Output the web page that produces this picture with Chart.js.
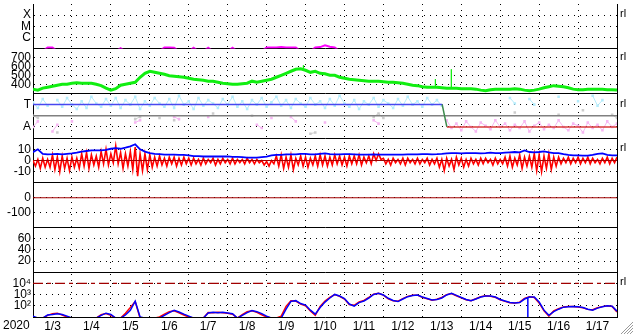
<!DOCTYPE html>
<html>
<head>
<meta charset="utf-8">
<script src="https://cdn.jsdelivr.net/npm/chart.js@4.4.1/dist/chart.umd.min.js"></script>
<style>
  html, body { margin: 0; padding: 0; background: #fff; }
  #wrap { position: relative; width: 633px; height: 334px; }
</style>
</head>
<body>
<div id="wrap"><canvas id="panels" width="633" height="334"></canvas></div>
<script>
// x axis: days since 2020-01-03 00:00, one sample every 3 hours
var YEAR = '2020';
var DAYS = ['1/3','1/4','1/5','1/6','1/7','1/8','1/9','1/10','1/11','1/12','1/13','1/14','1/15','1/16','1/17'];
var STEP = 0.125;

// GOES x-ray flux (W/m2), mostly under the panel floor
var xrayFlux = [6e-8,6e-8,6e-8,1.3e-7,1.3e-7,6e-8,6e-8,6e-8,6e-8,6e-8, 6e-8,6e-8,6e-8,6e-8,6e-8,6e-8,6e-8,6e-8,1.1e-7,6e-8,
  6e-8,6e-8,6e-8,6e-8,6e-8,6e-8,6e-8,1.3e-7,1.3e-7,1.2e-7, 6e-8,6e-8,6e-8,1.2e-7,6e-8,6e-8,1.2e-7,6e-8,6e-8,6e-8,
  6e-8,1.2e-7,6e-8,6e-8,6e-8,6e-8,6e-8,6e-8,1.3e-7,1.3e-7, 1.3e-7,1.4e-7,1.3e-7,1.3e-7,1.3e-7,6e-8,6e-8,6e-8,1.3e-7,1.4e-7,
  2.0e-7,1.5e-7,1.3e-7,6e-8,6e-8,6e-8,6e-8,6e-8,6e-8,6e-8, 6e-8,6e-8,6e-8,6e-8,6e-8,6e-8,6e-8,6e-8,6e-8,6e-8,
  6e-8,6e-8,6e-8,6e-8,6e-8,6e-8,6e-8,6e-8,6e-8,6e-8, 6e-8,6e-8,6e-8,6e-8,6e-8,6e-8,6e-8,6e-8,6e-8,6e-8,
  6e-8,6e-8,6e-8,6e-8,6e-8,6e-8,6e-8,6e-8,6e-8,6e-8, 6e-8,6e-8,6e-8,6e-8,6e-8,6e-8,6e-8,6e-8,6e-8,6e-8, 6e-8];

// solar wind speed (km/s)
var windSpeed = [348,337,359,370,381,392,403,403,414,420, 414,414,414,403,387,359,337,353,392,403,
  414,425,481,525,548,536,525,514,498,492, 486,481,470,459,453,448,437,437,425,414,
  409,403,403,409,414,437,425,437,448,459, 481,503,525,548,570,575,559,536,548,525,
  520,503,503,481,470,459,453,448,442,437, 437,437,431,425,425,420,414,403,392,387,
  375,370,370,370,364,359,359,359,353,353, 353,348,337,331,342,348,348,348,348,353,
  348,337,331,337,348,364,375,387,381,375, 364,348,342,342,348,348,348,348,342,342, 337];
var speedSpikeDay = [6.94, 10.33, 10.74];
var speedSpikeTop = [615, 460, 570];

// T/A panel, in panel levels (A = 1, T = 3)
var tempBlue = [3.2,2.7,3.5,2.9,null,3.4,2.8,3.6,3.0,2.6, 3.3,2.7,3.7,3.1,2.8,3.5,2.9,3.6,2.7,3.4,
  3.0,3.7,2.6,3.3,2.9,3.6,3.1,2.8,3.5,2.7, 3.8,3.0,3.3,2.6,3.6,2.9,3.4,3.1,2.7,3.5,
  3.0,3.7,2.8,3.3,2.6,3.4,3.0,3.6,2.8,3.2, 3.7,2.9,3.4,2.7,3.5,3.1,2.8,3.6,3.0,3.3,
  2.7,3.5,2.9,3.8,3.1,2.8,3.4,2.6,3.3,3.0, 3.6,2.8,3.4,3.1,2.7,3.5,2.9,3.7,3.0,3.3,
  2.8,3.6,3.0,3.4,2.9,null,null,null,null,null, null,null,null,null,null,null,null,null,3.6,3.1,
  null,null,3.5,3.0,null,null,null,null,3.7,null, null,null,3.3,null,null,3.8,2.9,3.4,null,null, null];
var tempPink = [1.0,1.5,null,null,0.6,1.2,null,null,1.5,null, null,null,null,null,null,null,null,null,null,null,
  null,1.4,1.6,null,null,null,null,null,null,1.9, 1.7,null,null,null,null,null,1.9,null,null,null,
  null,null,null,null,null,null,1.2,0.9,null,1.8, null,null,null,1.9,1.5,null,null,null,null,null,
  1.4,null,null,null,null,null,null,null,null,null, 1.6,1.3,null,null,null,null,null,null,null,null,
  null,null,null,null,null,1.6,0.9,1.3,0.7,1.5, 1.0,0.6,1.4,1.1,0.8,1.6,1.0,1.3,0.7,1.2,
  0.9,1.5,0.6,1.1,1.4,0.8,1.2,0.9,1.6,1.0, 0.7,1.3,1.1,0.5,1.4,0.9,1.2,0.7,1.5,1.0, 1.3];
var tempGray = [2.0,1.8,null,null,null,0.5,null,null,null,null, null,null,null,null,null,null,null,null,null,null,
  null,1.7,1.9,null,null,null,1.8,null,null,1.6, null,null,null,null,null,null,null,2.2,null,null,
  null,null,null,null,null,2.0,null,null,null,null, null,null,null,null,null,null,null,0.4,0.5,null,
  null,null,null,null,null,null,null,null,null,null, 1.9,2.2,1.8,null,null,null,null,null,null,null,
  null,null,null,null,null,null,null,null,null,null, null,null,null,null,null,null,null,null,null,2.3,
  null,null,null,null,null,null,null,null,2.1,null, null,null,null,2.5,null,null,null,null,null,2.1, 1.8];
var stepDays = [0, 10.51, 10.63, 15];
var stepLevel = [3, 3, 1, 1];

// IMF Bt and Bz (nT); Bz as high/low per 3 h bin
var bt = [7.5,10,6,5.5,5.7,6,5.5,6,6.3,7, 8,8.5,9,9,9,9.5,10.5,11,10.5,11.5,
  12.7,14.5,10,8,6.6,6,5.7,5.3,5.3,5.3, 5,5,4.5,4,4,3.6,3.6,3.6,3.6,3.6,
  3.6,3.3,3.3,3,2.5,2.5,2.5,3,3.5,4.5, 5,5,5.5,5.5,5.5,6,6,5.5,5.5,6,
  6.4,5.7,5.5,5.5,5.7,5.7,5.5,5.2,5.2,5.2, 5.5,5.2,5.2,5.2,5.2,5.2,5.2,5.5,5.5,5.5,
  5.7,5.7,5.5,5.7,6,6.4,6.6,6.6,6.4,6.6, 6.6,6.6,6.4,6.6,7,6.6,6.6,7,7.3,7.6,
  7.3,9,7.6,7.3,7.6,8.2,7.3,6.6,6.6,5.7, 5,4.5,4.5,4.3,4.3,5,6,6.3,5,4.5, 4.5];
var bzHigh = [0,1,2,1, 5,3,4,2, 3,2, 6,7,5,4, 8,10,6,13, 7,6,8, 12,6, 6,5,
  3,4,2,3,3,2,3,2, 2,1,2,1,2,1,2,1, 2,1,1,2,1,1, 0,-1,0, 4,5,3,5,2,4,3,2,4,
  5,4,3,5,4,3,4, 4,5,3,4, 6,6, 2,1,2,1,2,2,1,2,1,2,1, 2,1,2,1,3,2,1,
  2,1,2,2,1,2,1, 3,4,2,5,3,4, 6,5,4,6,3, 3,2,3,2,3,2,3,2,1,2,3,2,3];
var bzLow = [-5,-7,-6,-6, -8,-10,-7,-9, -6,-7, -5,-7,-4,-6, -3,-4,-2,-3, -7,-5,-8, -14,-9, -8,-6,
  -5,-4,-5,-3,-5,-4,-3,-4, -3,-4,-3,-2,-4,-3,-2,-3, -3,-2,-3,-2,-3,-2, -4,-5,-3, -5,-7,-6,-8,-4,-5,-6,-4,-5,
  -4,-5,-4,-3,-4,-5,-3, -3,-4,-2,-3, 0,1, -3,-4,-2,-3,-4,-2,-3,-3,-2,-4,-3, -6,-9,-5,-8,-4,-6,-5,
  -3,-4,-3,-2,-4,-3,-3, -5,-6,-4,-7,-5,-6, -9,-10,-7,-8,-5, -3,-2,-3,-2,-3,-2,-3,-2,-3,-2,-3,-2,-3];

// proton flux, two channels
var protonBlue = [12,8,8,15,17,20,17,12,8,8, 8,8,8,8,14,22,17,8,8,15,
  40,260,10,8,8,8,8,14,25,40, 28,18,12,8,8,8,23,26,24,26,
  23,20,8,14,25,38,30,20,12,8, 8,8,50,250,290,160,116,41,18,70,
  217,500,1040,760,450,145,94,195,268,500, 1040,1340,940,470,300,240,405,660,850,940,
  620,450,330,370,500,940,1300,850,560,370, 285,405,617,760,760,617,370,267,195,175,
  195,405,617,617,217,41,14,30,50,76, 81,85,81,70,50,41,62,81,100,94, 33];
var protonRed = [8,8,8,14,20,22,15,10,8,8, 8,8,8,8,16,20,14,8,8,22,
  70,240,8,8,8,8,10,18,30,36, 24,15,10,8,8,8,25,24,26,24,
  22,18,8,16,30,36,26,16,10,8, 8,12,90,290,270,140,100,35,14,90,
  260,560,1000,700,400,130,110,220,300,560, 1100,1300,900,430,280,260,440,700,880,900,
  580,420,320,390,560,1000,1250,800,520,350, 290,430,650,780,720,580,350,250,190,180,
  210,450,650,560,180,35,12,35,55,80, 85,85,78,66,48,44,66,85,100,88, 28];
var protonDropDay = 12.71;
var protonAlert = 10000;

var FONT_Y = {family: "'Liberation Sans Narrow', 'Liberation Sans', Arial, sans-serif", size: 12};
var FONT_X = {family: "'Liberation Sans Narrow', 'Liberation Sans', Arial, sans-serif", size: 12};
var DOTS = [1, 5];

function series(values) {
    return values.map(function (v, k) { return {x: k * STEP, y: v}; });
}

// high then low inside each 3 h bin, so the trace goes up and down like the raw data
function zigzag(hi, lo) {
    var out = [];
    hi.forEach(function (v, k) {
        out.push({x: k * STEP, y: v});
        out.push({x: k * STEP + STEP / 2, y: lo[k]});
    });
    return out;
}

function flat(value) {
    return [{x: 0, y: value}, {x: 15, y: value}];
}

function spikes() {
    var out = [];
    speedSpikeDay.forEach(function (d, i) {
        var base = windSpeed[Math.round(d / STEP)];
        out.push({x: d, y: base}, {x: d, y: speedSpikeTop[i]}, {x: d + 0.01, y: base}, {x: d + 0.02, y: null});
    });
    return out;
}

function panelAxis(weight, type, min, max, ticks, labels, topLine) {
    return {
        type: type, position: 'left', stack: 'panels', stackWeight: 1, weight: weight,
        min: min, max: max,
        afterFit: function (s) {
            s.width = 33;
            s.paddingTop = 0;
            s.paddingBottom = 0;
        },
        afterBuildTicks: function (s) {
            s.ticks = ticks.map(function (v) { return {value: v}; });
        },
        ticks: {
            autoSkip: false, padding: 2, color: '#000', font: FONT_Y,
            callback: function (v, i) { return labels[i]; }
        },
        grid: { drawTicks: false, color: '#000', lineWidth: 1 },
        border: {
            display: true, color: '#000',
            dash: function (c) {
                return (topLine && c.tick && c.tick.value === max) ? [] : DOTS;
            }
        }
    };
}

function line(axis, data, color, width, order, extra) {
    var ds = {
        xAxisID: 'x', yAxisID: axis, data: data, borderColor: color, backgroundColor: color,
        borderWidth: width, pointRadius: 0, tension: 0, fill: false, order: order
    };
    for (var key in extra) ds[key] = extra[key];
    return ds;
}

var speckle = { pointRadius: 1.8, pointStyle: 'rect', pointBorderWidth: 0 };

var datasets = [
    line('yX', series(xrayFlux), '#ff00ff', 2, 5),

    line('ySpeed', series(windSpeed), '#11ee11', 3, 5),
    line('ySpeed', spikes(), '#11ee11', 1, 5),

    line('yTA', flat(2), '#808080', 1.5, 2),
    line('yTA', stepDays.map(function (d, i) { return {x: d, y: stepLevel[i]}; }), '#4848f0', 1.5, 1, {
        segment: {
            borderColor: function (c) {
                if (c.p0.parsed.y !== c.p1.parsed.y) return '#3c8a4c';
                return c.p0.parsed.y > 2 ? '#4848f0' : '#d83a3a';
            }
        }
    }),
    line('yTA', series(tempBlue), '#b4ecfc', 1, 6, speckle),
    line('yTA', series(tempPink), '#f6b6f2', 1, 6, speckle),
    line('yTA', series(tempGray), '#cccccc', 1, 7, speckle),

    line('yB', flat(0), '#a00000', 1, 1),
    line('yB', series(bt), '#0000ff', 1.8, 2),
    line('yB', zigzag(bzHigh, bzLow), '#ff0000', 1.6, 3),

    line('yDst', flat(0), '#a00000', 1.2, 1),

    line('yP', flat(protonAlert), '#a00000', 1.2, 1, { borderDash: [10, 4, 4, 4] }),
    line('yP', series(protonBlue), '#0000ff', 1.5, 2),
    line('yP', [{x: protonDropDay, y: 600}, {x: protonDropDay, y: 5}], '#0000ff', 1.5, 2),
    line('yP', series(protonRed), '#ff0000', 1.5, 3)
];

// keep every dataset inside its own panel
var panelClip = {
    id: 'panelClip',
    beforeDatasetDraw: function (chart, args) {
        var ys = chart.scales[args.meta.yAxisID];
        var a = chart.chartArea;
        chart.ctx.save();
        chart.ctx.beginPath();
        chart.ctx.rect(a.left, ys.top, a.right - a.left, ys.bottom - ys.top);
        chart.ctx.clip();
    },
    afterDatasetDraw: function (chart) {
        chart.ctx.restore();
    }
};

var extras = {
    id: 'extras',
    afterDraw: function (chart) {
        var ctx = chart.ctx;
        var a = chart.chartArea;
        var s = chart.scales;
        ctx.save();
        ctx.fillStyle = '#000';
        ctx.font = "12px 'Liberation Sans Narrow', 'Liberation Sans', Arial, sans-serif";
        ctx.textBaseline = 'middle';
        ctx.textAlign = 'left';
        ctx.fillText(YEAR, 3, 326);

        ctx.font = "11px 'Liberation Sans', Arial, sans-serif";
        var marks = [
            s.yX.getPixelForValue(1e-4), s.ySpeed.getPixelForValue(700),
            s.yTA.getPixelForValue(3), s.yB.getPixelForValue(10), s.yP.getPixelForValue(protonAlert)
        ];
        marks.forEach(function (y) { ctx.fillText('rl', a.right + 3, y - 1); });

        ctx.strokeStyle = '#9a9a9a';
        ctx.lineWidth = 1;
        for (var k = 3; k <= 13; k += 3) {
            ctx.beginPath();
            ctx.moveTo(633 - k, 334);
            ctx.lineTo(633, 334 - k);
            ctx.stroke();
        }
        ctx.restore();
    }
};

new Chart(document.getElementById('panels'), {
    type: 'line',
    data: { datasets: datasets },
    options: {
        responsive: false,
        animation: false,
        devicePixelRatio: 1,
        layout: { padding: { top: 2, right: 16, left: 0, bottom: 0 } },
        plugins: { legend: { display: false }, tooltip: { enabled: false } },
        scales: {
            x: {
                type: 'linear', position: 'bottom', min: 0, max: 15,
                afterFit: function (s) {
                    s.height = 17;
                    s.paddingLeft = 0;
                    s.paddingRight = 0;
                },
                afterBuildTicks: function (s) {
                    s.ticks = DAYS.map(function (d, i) { return {value: i + 0.5}; });
                },
                ticks: {
                    autoSkip: false, maxRotation: 0, padding: 2, color: '#000', font: FONT_X,
                    callback: function (v, i) { return DAYS[i]; }
                },
                grid: { display: false, drawTicks: false },
                border: { display: true, color: '#000' }
            },
            xg: {
                type: 'linear', position: 'top', min: 0, max: 15,
                afterFit: function (s) {
                    s.height = 0;
                    s.paddingLeft = 0;
                    s.paddingRight = 0;
                },
                afterBuildTicks: function (s) {
                    var t = [];
                    for (var d = 0; d <= 15; d++) t.push({value: d});
                    s.ticks = t;
                },
                ticks: { display: false },
                grid: { drawTicks: false, color: '#000', lineWidth: 1 },
                border: {
                    display: false,
                    dash: function (c) {
                        return (c.tick && (c.tick.value === 0 || c.tick.value === 15)) ? [] : DOTS;
                    }
                }
            },
            yX: panelAxis(7, 'logarithmic', 1e-7, 1e-3, [1e-6, 1e-5, 1e-4], ['C', 'M', 'X'], false),
            ySpeed: panelAxis(6, 'linear', 300, 800, [400, 500, 600, 700, 800], ['400', '500', '600', '700', ''], true),
            yTA: panelAxis(5, 'linear', 0, 4, [1, 2, 3, 4], ['A', '', 'T', ''], true),
            yB: panelAxis(4, 'linear', -20, 20, [-10, 0, 10, 20], ['-10', '0', '10', ''], true),
            yDst: panelAxis(3, 'linear', -200, 100, [-100, 0, 100], ['-100', '0', ''], true),
            yKp: panelAxis(2, 'linear', 0, 80, [20, 40, 60, 80], ['20', '40', '60', ''], true),
            yP: panelAxis(1, 'logarithmic', 10, 100000, [100, 1000, 10000, 100000], ['10\u00b2', '10\u00b3', '10\u2074', ''], true)
        }
    },
    plugins: [panelClip, extras]
});
</script>
</body>
</html>
